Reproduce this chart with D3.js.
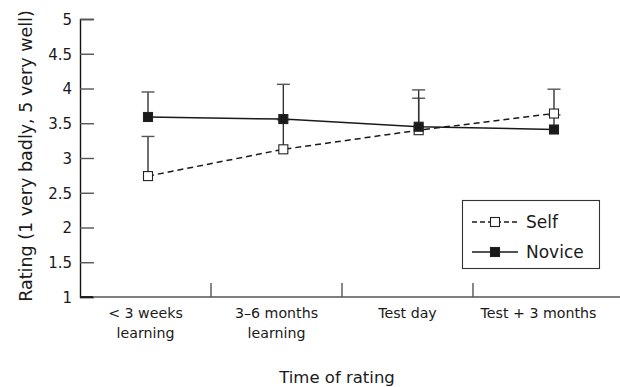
<!DOCTYPE html>
<html><head><meta charset="utf-8">
<script src="https://cdn.jsdelivr.net/npm/d3@7"></script>
<style>
body{margin:0;background:#fff;}
text{font-family:"DejaVu Sans",sans-serif;fill:#1a1a1a;}
</style></head>
<body><svg id="c" width="620" height="387"></svg>
<script>
const categories = ["< 3 weeks|learning", "3–6 months|learning", "Test day", "Test + 3 months"];
const selfMean   = [2.74, 3.125, 3.40, 3.64];
const selfUpper  = [3.31, 3.55, 3.86, 3.99];
const noviceMean = [3.59, 3.56, 3.45, 3.41];
const noviceUpper= [3.95, 4.06, 3.98, 3.62];
const yTicks = [1, 1.5, 2, 2.5, 3, 3.5, 4, 4.5, 5];
const yTitle = "Rating (1 very badly, 5 very well)";
const xTitle = "Time of rating";
const legendNames = ["Self", "Novice"];

const svg = d3.select("#c");
const y = d3.scaleLinear().domain([1,5]).range([297,19]);
const xBand = d3.scaleBand().domain(categories).range([80,604]);
const xPt = d3.scalePoint().domain(categories).range([148,554]);

// y axis
const yAx = svg.append("g").attr("transform","translate(80,0)")
  .call(d3.axisRight(y).tickValues(yTicks).tickSize(14).tickFormat(d3.format("")));
yAx.select(".domain").attr("stroke","#111").attr("stroke-width",1.4);
yAx.selectAll(".tick line").attr("stroke","#555").attr("stroke-width",1.4);
yAx.selectAll(".tick text").attr("x",-8).attr("text-anchor","end").attr("font-size",15).attr("dy","0.36em");

// x axis line
svg.append("line").attr("x1",80).attr("x2",620).attr("y1",297).attr("y2",297)
  .attr("stroke","#555").attr("stroke-width",1.4);
svg.append("line").attr("x1",80).attr("x2",93).attr("y1",297).attr("y2",297)
  .attr("stroke","#111").attr("stroke-width",1.6);
// x separator ticks
categories.slice(1).forEach(c=>{
  svg.append("line").attr("x1",xBand(c)).attr("x2",xBand(c)).attr("y1",283).attr("y2",297)
    .attr("stroke","#555").attr("stroke-width",1.4);
});
// x labels
categories.forEach(c=>{
  const lines = c.split("|");
  const cx = xBand(c)+xBand.bandwidth()/2;
  const t = svg.append("text").attr("text-anchor","middle").attr("font-size",14.2)
    .attr("x", cx).attr("y",318);
  lines.forEach((l,i)=>t.append("tspan").attr("x",cx).attr("dy",i?20:0).text(l));
});
svg.append("text").attr("x",337).attr("y",383).attr("text-anchor","middle").attr("font-size",16.5).text(xTitle);
svg.append("text").attr("transform","translate(32,156) rotate(-90)").attr("text-anchor","middle")
  .attr("font-size",17.5).text(yTitle);

function series(means, uppers, dashed){
  const g = svg.append("g");
  means.forEach((m,i)=>{
    const cx = xPt(categories[i]);
    g.append("line").attr("x1",cx).attr("x2",cx).attr("y1",y(m)).attr("y2",y(uppers[i]))
      .attr("stroke","#333").attr("stroke-width",1.4);
    g.append("line").attr("x1",cx-6.5).attr("x2",cx+6.5).attr("y1",y(uppers[i])).attr("y2",y(uppers[i]))
      .attr("stroke","#555").attr("stroke-width",1.4);
  });
  const line = d3.line().x((d,i)=>xPt(categories[i])).y(d=>y(d));
  g.append("path").datum(means).attr("d",line).attr("fill","none").attr("stroke","#1a1a1a")
    .attr("stroke-width",1.5).attr("stroke-dasharray",dashed?"6,4":null);
  return g;
}
function markers(means, fill){
  means.forEach((m,i)=>{
    const cx = xPt(categories[i]);
    svg.append("rect").attr("x",cx-4.5).attr("y",y(m)-4.5).attr("width",9).attr("height",9)
      .attr("fill",fill).attr("stroke","#222").attr("stroke-width",1.1);
  });
}
series(selfMean, selfUpper, true);
series(noviceMean, noviceUpper, false);
markers(selfMean, "#fff");
markers(noviceMean, "#1a1a1a");

// legend
const lg = svg.append("g");
lg.append("rect").attr("x",462.5).attr("y",200.5).attr("width",137).attr("height",68)
  .attr("fill","#fff").attr("stroke","#333").attr("stroke-width",1.1);
legendNames.forEach((n,i)=>{
  const ly = 222 + i*30;
  lg.append("line").attr("x1",472).attr("x2",518).attr("y1",ly).attr("y2",ly)
    .attr("stroke","#1a1a1a").attr("stroke-width",1.5).attr("stroke-dasharray",i===0?"5,3":null);
  lg.append("rect").attr("x",490.5).attr("y",ly-4.5).attr("width",9).attr("height",9)
    .attr("fill",i===0?"#fff":"#1a1a1a").attr("stroke","#222").attr("stroke-width",1.1);
  lg.append("text").attr("x",526).attr("y",ly).attr("dy","0.36em").attr("font-size",17).text(n);
});
</script></body></html>
